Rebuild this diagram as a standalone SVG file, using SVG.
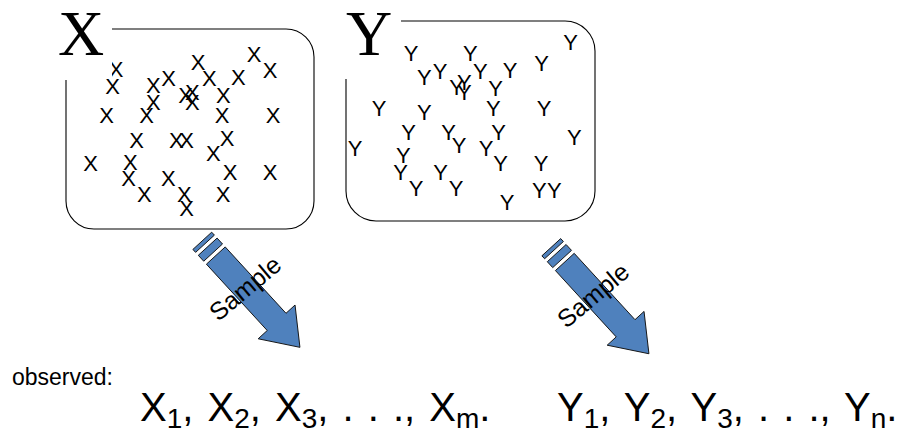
<svg xmlns="http://www.w3.org/2000/svg" width="899" height="440" viewBox="0 0 899 440">
<style>
  .box{fill:none;stroke:#000;stroke-width:1.1}
  .big{font-family:"Liberation Serif","Times New Roman",serif;font-size:64px;fill:#000}
  .pt{font-family:"Liberation Sans",Arial,sans-serif;font-size:22px;fill:#000;text-anchor:middle}
  .arr{fill:#4f81bd;stroke:#111;stroke-width:0.9}
  .lbl{font-family:"Liberation Sans",Arial,sans-serif;font-size:25px;fill:#000;text-anchor:middle}
  .obs{font-family:"Liberation Sans",Arial,sans-serif;font-size:23px;fill:#000}
  .seq{font-family:"Liberation Sans",Arial,sans-serif;font-size:40px;fill:#000;word-spacing:3px}
  .sub{font-size:28px}
</style>
<defs>
  <clipPath id="cutX"><rect x="112" y="0" width="60" height="120"/></clipPath>
  <g id="sampleArrow">
    <rect class="arr" x="0" y="-12.75" width="4" height="25.5"/>
    <rect class="arr" x="8" y="-12.75" width="8" height="25.5"/>
    <path class="arr" d="M20,-12.75 H110 V-25 L144.5,0 L110,25 V12.75 H20 Z"/>
  </g>
</defs>

<g id="nodeX">
  <path class="box" d="M66,80 V201 A28,28 0 0 0 94,229 H286 A28,28 0 0 0 314,201 V57 A28,28 0 0 0 286,29 H112"/>
  <text class="big" x="58" y="55">X</text>
  <g class="pts">
    <text class="pt" x="198" y="69.7">X</text>
    <text class="pt" x="254" y="62.3">X</text>
    <text class="pt" x="270" y="78">X</text>
    <text class="pt" x="116" y="76.7" clip-path="url(#cutX)">X</text>
    <text class="pt" x="112.7" y="94">X</text>
    <text class="pt" x="153.3" y="93">X</text>
    <text class="pt" x="168.7" y="86">X</text>
    <text class="pt" x="209.3" y="86.3">X</text>
    <text class="pt" x="238.3" y="85.3">X</text>
    <text class="pt" x="185.7" y="102.7">X</text>
    <text class="pt" x="192.3" y="99.7">X</text>
    <text class="pt" x="192.3" y="109.7">X</text>
    <text class="pt" x="223.3" y="103.3">X</text>
    <text class="pt" x="153.3" y="109.7">X</text>
    <text class="pt" x="106.7" y="123">X</text>
    <text class="pt" x="146.7" y="123">X</text>
    <text class="pt" x="222" y="123">X</text>
    <text class="pt" x="273" y="123">X</text>
    <text class="pt" x="136.7" y="148">X</text>
    <text class="pt" x="176.3" y="148">X</text>
    <text class="pt" x="186.7" y="148">X</text>
    <text class="pt" x="227" y="146.3">X</text>
    <text class="pt" x="213.3" y="161.3">X</text>
    <text class="pt" x="90.7" y="171.3">X</text>
    <text class="pt" x="130.3" y="170.3">X</text>
    <text class="pt" x="128.7" y="186.3">X</text>
    <text class="pt" x="230" y="179.7">X</text>
    <text class="pt" x="270" y="179.7">X</text>
    <text class="pt" x="168.3" y="186.3">X</text>
    <text class="pt" x="144.3" y="201.7">X</text>
    <text class="pt" x="184.3" y="201.7">X</text>
    <text class="pt" x="186.7" y="216.3">X</text>
    <text class="pt" x="223" y="201.7">X</text>
  </g>
</g>

<g id="nodeY">
  <path class="box" d="M346,79 V191 A30,30 0 0 0 376,221 H565 A30,30 0 0 0 595,191 V51 A30,30 0 0 0 565,21 H401"/>
  <text class="big" x="346" y="55">Y</text>
  <g class="pts">
    <text class="pt" x="570.7" y="49.7">Y</text>
    <text class="pt" x="411" y="61.3">Y</text>
    <text class="pt" x="470.3" y="61.3">Y</text>
    <text class="pt" x="541.7" y="71.3">Y</text>
    <text class="pt" x="424.3" y="84.7">Y</text>
    <text class="pt" x="440" y="79">Y</text>
    <text class="pt" x="480.3" y="79">Y</text>
    <text class="pt" x="510" y="78">Y</text>
    <text class="pt" x="456.7" y="94.7">Y</text>
    <text class="pt" x="464.3" y="89.7">Y</text>
    <text class="pt" x="464.3" y="99.7">Y</text>
    <text class="pt" x="495.7" y="95.7">Y</text>
    <text class="pt" x="379" y="116.3">Y</text>
    <text class="pt" x="424.3" y="119.7">Y</text>
    <text class="pt" x="493.3" y="116.3">Y</text>
    <text class="pt" x="544" y="116.3">Y</text>
    <text class="pt" x="408.7" y="139.7">Y</text>
    <text class="pt" x="448.7" y="139.7">Y</text>
    <text class="pt" x="498.7" y="139.7">Y</text>
    <text class="pt" x="574.3" y="144.7">Y</text>
    <text class="pt" x="355" y="155.7">Y</text>
    <text class="pt" x="459" y="153">Y</text>
    <text class="pt" x="486" y="155.7">Y</text>
    <text class="pt" x="403.3" y="163">Y</text>
    <text class="pt" x="500.7" y="171.3">Y</text>
    <text class="pt" x="541" y="171.3">Y</text>
    <text class="pt" x="400.7" y="179.7">Y</text>
    <text class="pt" x="440.7" y="179.7">Y</text>
    <text class="pt" x="416" y="196.3">Y</text>
    <text class="pt" x="456" y="196.3">Y</text>
    <text class="pt" x="539.3" y="198">Y</text>
    <text class="pt" x="554.3" y="198">Y</text>
    <text class="pt" x="507" y="209.7">Y</text>
  </g>
</g>

<g id="connectors">
  <g id="sampleX">
    <use href="#sampleArrow" transform="translate(202.3,240.8) rotate(47.5)"/>
    <text class="lbl" transform="translate(245,288) rotate(-40)" x="0" y="9">Sample</text>
  </g>
  <g id="sampleY">
    <use href="#sampleArrow" transform="translate(551.3,247.2) rotate(47.5)"/>
    <text class="lbl" transform="translate(593,295) rotate(-40)" x="0" y="9">Sample</text>
  </g>
</g>

<g id="observed">
  <text class="obs" x="12" y="385">observed:</text>
  <text class="seq" x="140" y="421">X<tspan class="sub" dy="7">1</tspan><tspan dy="-7">, X</tspan><tspan class="sub" dy="7">2</tspan><tspan dy="-7">, X</tspan><tspan class="sub" dy="7">3</tspan><tspan dy="-7">, . . ., X</tspan><tspan class="sub" dy="7">m</tspan><tspan dy="-7">.</tspan></text>
  <text class="seq" x="557" y="421">Y<tspan class="sub" dy="7">1</tspan><tspan dy="-7">, Y</tspan><tspan class="sub" dy="7">2</tspan><tspan dy="-7">, Y</tspan><tspan class="sub" dy="7">3</tspan><tspan dy="-7">, . . ., Y</tspan><tspan class="sub" dy="7">n</tspan><tspan dy="-7">.</tspan></text>
</g>
</svg>
